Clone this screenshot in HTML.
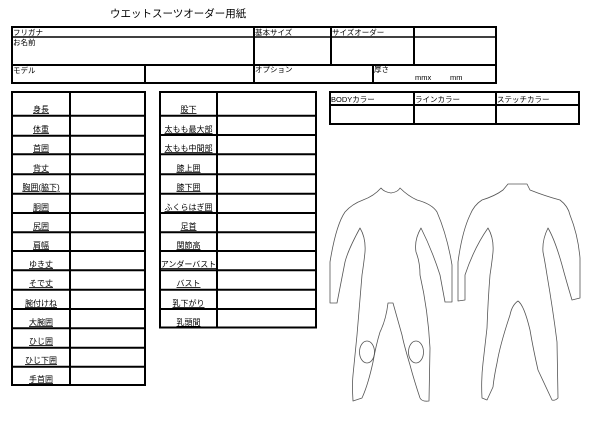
<!DOCTYPE html>
<html><head><meta charset="utf-8"><style>
html,body{margin:0;padding:0;background:#fff;}
svg{display:block;font-family:"Liberation Sans","Noto Sans CJK JP",sans-serif;}
.t{font-size:7.5px;fill:#000;}
.l{font-size:8px;fill:#000;text-anchor:middle;text-decoration:underline;}
</style></head><body>
<svg width="600" height="438" viewBox="0 0 600 438" xmlns="http://www.w3.org/2000/svg">
<text x="110" y="17" style="font-size:10.5px">ウエットスーツオーダー用紙</text>
<g fill="none" stroke="#000" stroke-width="2">
<!-- top table -->
<rect x="12" y="27" width="484" height="56"/>
<line x1="12" y1="37" x2="496" y2="37" stroke-width="1.5"/>
<line x1="12" y1="65" x2="496" y2="65"/>
<line x1="254" y1="27" x2="254" y2="83"/>
<line x1="331" y1="27" x2="331" y2="65"/>
<line x1="414" y1="27" x2="414" y2="65"/>
<line x1="145" y1="65" x2="145" y2="83"/>
<line x1="373" y1="65" x2="373" y2="83"/>
<!-- color table -->
<rect x="330" y="92" width="249" height="32"/>
<line x1="330" y1="105" x2="579" y2="105"/>
<line x1="414" y1="92" x2="414" y2="124"/>
<line x1="496" y1="92" x2="496" y2="124"/>
<!-- left table -->
<rect x="12" y="92" width="133" height="293"/>
<line x1="70" y1="92" x2="70" y2="385"/>
<path d="M12 115.7H145M12 135.7H145M12 154.3H145M12 174.3H145M12 193.7H145M12 213H145M12 232.3H145M12 251H145M12 270.3H145M12 289.7H145M12 309H145M12 328.3H145M12 347.7H145M12 366.7H145"/>
<!-- middle table -->
<rect x="160" y="92" width="156" height="235.5"/>
<line x1="217" y1="92" x2="217" y2="327.5"/>
<path d="M160 115.7H316M160 135H316M160 154.3H316M160 174.3H316M160 193.7H316M160 213H316M160 232.3H316M160 251H316M160 270.3H316M160 289.7H316M160 309H316"/>
</g>
<g class="t">
<text x="13" y="35">フリガナ</text>
<text x="13" y="45">お名前</text>
<text x="13" y="73">モデル</text>
<text x="255" y="35">基本サイズ</text>
<text x="332" y="35">サイズオーダー</text>
<text x="255" y="72">オプション</text>
<text x="374" y="72">厚さ</text>
<text x="415" y="80">mmx</text>
<text x="450" y="80">mm</text>
<text x="331" y="102">BODYカラー</text>
<text x="415" y="102">ラインカラー</text>
<text x="497" y="102">ステッチカラー</text>
</g>
<g class="l">
<text x="41" y="112">身長</text>
<text x="41" y="132">体重</text>
<text x="41" y="151">首囲</text>
<text x="41" y="171">背丈</text>
<text x="41" y="190">胸囲(脇下)</text>
<text x="41" y="210">胴囲</text>
<text x="41" y="229">尻囲</text>
<text x="41" y="248">肩幅</text>
<text x="41" y="267">ゆき丈</text>
<text x="41" y="286">そで丈</text>
<text x="41" y="306">腕付けね</text>
<text x="41" y="325">大腕囲</text>
<text x="41" y="344">ひじ囲</text>
<text x="41" y="363">ひじ下囲</text>
<text x="41" y="382">手首囲</text>
<text x="188.5" y="112">股下</text>
<text x="188.5" y="132">太もも最大部</text>
<text x="188.5" y="151">太もも中間部</text>
<text x="188.5" y="171">膝上囲</text>
<text x="188.5" y="190">膝下囲</text>
<text x="188.5" y="210">ふくらはぎ囲</text>
<text x="188.5" y="229">足首</text>
<text x="188.5" y="248">関節高</text>
<text x="188.5" y="267">アンダーバスト</text>
<text x="188.5" y="286">バスト</text>
<text x="188.5" y="306">乳下がり</text>
<text x="188.5" y="325">乳頭間</text>
</g>
<g fill="none" stroke="#555" stroke-width="0.8" stroke-linejoin="round">
<path d="M381 188 Q384 192 391 193 Q398 192 400 188 Q408 196 417 200 Q432 204 437 212 Q447 235 452 265 L452 302 L445 302 L440 275 Q432 250 421 228 Q414 240 416 252 Q420 262 420 275 Q428 310 430 348 L429 401 Q422 402 420 398 Q414 380 410 365 Q404 345 402 335 L393 303 L388 303 Q386 320 380 332 Q376 345 373 362 Q368 385 362 398 L353 401 Q352 385 353 375 L357 335 Q360 300 362 275 Q364 262 365 252 Q366 238 360 228 Q348 250 345 262 L337 303 L330 303 L330 262 Q336 225 345 212 Q352 204 363 200 Q374 196 381 188Z"/>
<ellipse cx="367" cy="352" rx="7.5" ry="11"/>
<ellipse cx="416" cy="352" rx="7.5" ry="11"/>
<path d="M508 184 L527 184 L530 190 Q545 196 560 200 Q568 206 570 215 Q578 235 580 258 L580 298 L572 300 Q566 280 562 265 Q555 240 548 228 Q542 240 543 252 Q545 262 547 275 Q553 310 557 342 L558 398 Q555 401 552 400 Q545 385 538 370 Q533 348 530 330 Q524 305 518 301 Q512 305 510 315 Q500 345 497 363 Q494 377 493 387 L487 400 L482 398 Q481 380 483 363 L487 328 Q488 300 490 275 Q492 262 493 252 Q494 238 488 228 Q474 248 465 275 L465 300 L458 301 L458 262 Q462 232 470 215 Q474 205 482 200 Q495 196 503 190 Z"/>
</g>
</svg>
</body></html>
